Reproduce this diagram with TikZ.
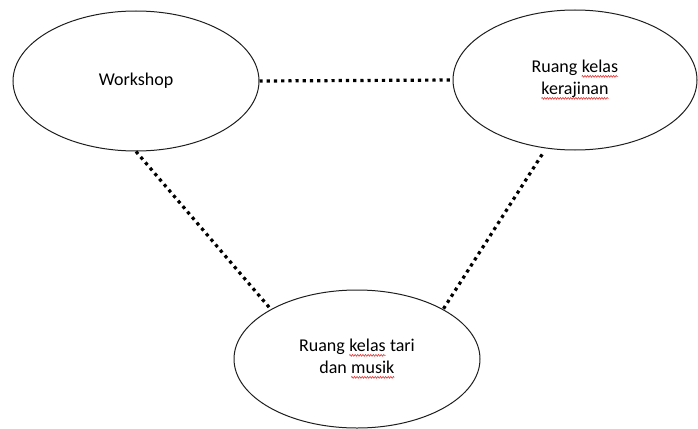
\documentclass[tikz,border=0pt]{standalone}
\usepackage{fontspec}
\setmainfont{Carlito}
\usetikzlibrary{shapes.geometric,decorations.pathmorphing}
\definecolor{spellred}{RGB}{226,52,52}
\definecolor{outline}{RGB}{30,30,30}
\tikzset{
  room/.style={ellipse, draw=outline, line width=1pt, inner sep=0pt,
    minimum width=246pt, minimum height=140pt, align=center,
    font=\fontsize{18}{22}\selectfont},
  link/.style={line width=3.2pt, line cap=butt, dash pattern=on 3.2pt off 4pt},
  word/.style={shape=rectangle, draw=none, fill=none, inner sep=0pt, outer sep=0pt,
    minimum width=0pt, minimum height=0pt, align=left, anchor=base},
  wave/.style={draw=spellred, line width=0.6pt, solid, decorate,
    decoration={zigzag, amplitude=0.9pt, segment length=2.6pt}}
}
% red wavy underline, as a spell checker marks a word
\newcommand\spellwave[1]{\tikz[baseline=(sw.base)]{\node[word] (sw) {#1};
  \draw[wave] ([yshift=-3.4pt]sw.base west) -- ([yshift=-3.4pt]sw.base east);}}
\begin{document}
\begin{tikzpicture}[x=1pt, y=-1pt]
  \useasboundingbox (0,0) rectangle (698,428);
  \node[room] (ws) at (136,81) {Workshop};
  \node[room, minimum width=244pt] (kr) at (575,80)
    {Ruang \spellwave{kelas}\\\spellwave{kerajinan}};
  \node[room, minimum height=138pt] (tm) at (357,359)
    {Ruang \spellwave{kelas} tari\\dan \spellwave{musik}};
  \draw[link] (ws.east) -- (kr.west);
  \draw[link] (ws.south) -- (tm.150);
  \draw[link, shorten <=7pt] (kr.247) -- (tm.30);
\end{tikzpicture}
\end{document}
